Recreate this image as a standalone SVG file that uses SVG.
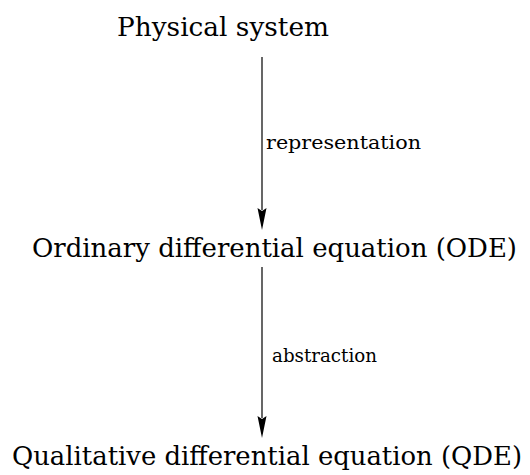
<svg xmlns="http://www.w3.org/2000/svg" width="530" height="475" viewBox="0 0 530 475">
<style>
text{font-family:"DejaVu Serif","Liberation Serif",serif;fill:#000}
.main{font-size:26px}
.lab{font-size:19px}
.edge{stroke:#000;stroke-width:1.2;fill:none}
.head{fill:#000}
</style>
<g id="n-physical"><text class="main" x="117" y="36" textLength="212" lengthAdjust="spacingAndGlyphs">Physical system</text></g>
<g id="n-ode"><text class="main" x="32" y="257" textLength="485" lengthAdjust="spacingAndGlyphs">Ordinary differential equation (ODE)</text></g>
<g id="n-qde"><text class="main" x="12" y="465" textLength="510" lengthAdjust="spacingAndGlyphs">Qualitative differential equation (QDE)</text></g>
<g id="connectors">
<line class="edge" x1="262" y1="57" x2="262" y2="210"/>
<path class="head" d="M257.5,208 L262,230 L266.5,208 L262,211 Z"/>
<line class="edge" x1="262" y1="267" x2="262" y2="418"/>
<path class="head" d="M257.5,416 L262,438 L266.5,416 L262,419 Z"/>
<text class="lab" x="266" y="149" textLength="155" lengthAdjust="spacingAndGlyphs">representation</text>
<text class="lab" x="272" y="362" textLength="105" lengthAdjust="spacingAndGlyphs">abstraction</text>
</g>
</svg>
